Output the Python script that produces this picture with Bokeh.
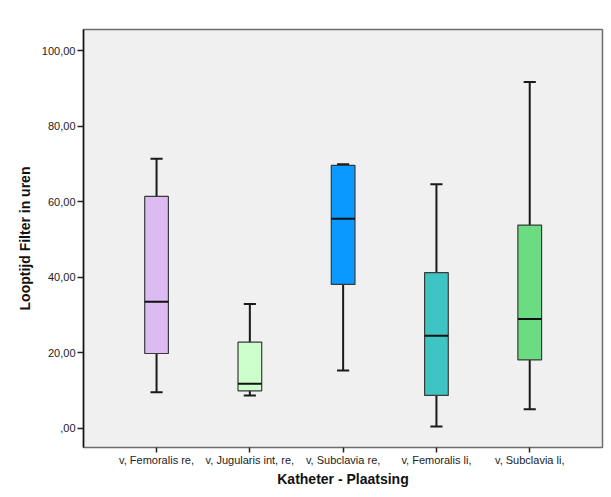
from bokeh.plotting import figure
from bokeh.models import FixedTicker, ColumnDataSource
from bokeh.embed import file_html
from bokeh.resources import INLINE

categories = ["v, Femoralis re,", "v, Jugularis int, re,", "v, Subclavia re,",
              "v, Femoralis li,", "v, Subclavia li,"]
whisker_low = [9.5, 8.7, 15.3, 0.45, 5.0]
q1 = [19.8, 9.9, 38.1, 8.7, 18.1]
median = [33.5, 11.8, 55.5, 24.5, 28.9]
q3 = [61.4, 22.8, 69.6, 41.2, 53.8]
whisker_high = [71.4, 32.9, 69.9, 64.6, 91.7]
colors = ["#dbbbf2", "#ccffcc", "#0a99ff", "#3fc4c4", "#6cdc82"]
y_ticks = [0, 20, 40, 60, 80, 100]
y_tick_labels = [",00", "20,00", "40,00", "60,00", "80,00", "100,00"]

xs = list(range(1, len(categories) + 1))
box_w = 0.254
cap_w = 0.13

src = ColumnDataSource(dict(
    x=xs, lo=whisker_low, q1=q1, med=median, q3=q3, hi=whisker_high, color=colors,
    bx0=[x - box_w / 2 for x in xs], bx1=[x + box_w / 2 for x in xs],
    cx0=[x - cap_w / 2 for x in xs], cx1=[x + cap_w / 2 for x in xs],
))

p = figure(width=609, height=489, output_backend="svg", toolbar_location=None,
           x_range=(0.217, 5.78), y_range=(-5.1, 105.6),
           min_border_left=83, min_border_top=29, min_border_right=7, min_border_bottom=41)

p.background_fill_color = "#f0f0f0"
p.border_fill_color = "white"
p.outline_line_color = "#6e6e6e"
p.outline_line_width = 1.5
p.xgrid.visible = False
p.ygrid.visible = False

# whiskers
p.segment(x0="x", y0="q3", x1="x", y1="hi", source=src, line_color="#1a1a1a", line_width=2)
p.segment(x0="x", y0="lo", x1="x", y1="q1", source=src, line_color="#1a1a1a", line_width=2)
p.segment(x0="cx0", y0="hi", x1="cx1", y1="hi", source=src, line_color="#1a1a1a", line_width=2)
p.segment(x0="cx0", y0="lo", x1="cx1", y1="lo", source=src, line_color="#1a1a1a", line_width=2)
# boxes
p.vbar(x="x", width=box_w, bottom="q1", top="q3", source=src, fill_color="color",
       line_color="#3a3a3a", line_width=1.2)
# medians
p.segment(x0="bx0", y0="med", x1="bx1", y1="med", source=src, line_color="#111111", line_width=2)

font = "Liberation Sans"
p.xaxis.ticker = FixedTicker(ticks=xs)
p.xaxis.major_label_overrides = {x: c for x, c in zip(xs, categories)}
p.yaxis.ticker = FixedTicker(ticks=y_ticks)
p.yaxis.major_label_overrides = {t: l for t, l in zip(y_ticks, y_tick_labels)}

for ax in (p.xaxis[0], p.yaxis[0]):
    ax.major_label_text_font = font
    ax.major_label_text_font_size = "11px"
    ax.major_label_text_color = "#222222"
    ax.axis_label_text_font = font
    ax.axis_label_text_font_style = "bold"
    ax.axis_label_text_color = "#111111"
    ax.axis_label_text_font_size = "14px"
    ax.minor_tick_line_color = None
    ax.major_tick_in = 0
    ax.major_tick_line_color = "#222222"
    ax.major_tick_line_width = 1.5

p.xaxis.axis_label = "Katheter - Plaatsing"
p.yaxis.axis_label = "Looptijd Filter in uren"
p.xaxis.axis_line_color = "#6e6e6e"
p.yaxis.axis_line_color = "#111111"
p.yaxis.axis_line_width = 1.5
p.xaxis.major_tick_out = 5
p.yaxis.major_tick_out = 6
p.xaxis.major_label_standoff = 1
p.yaxis.major_label_standoff = 2
p.xaxis.axis_label_standoff = 2
p.yaxis.axis_label_standoff = 6

open("out.html", "w").write(file_html(p, INLINE))
